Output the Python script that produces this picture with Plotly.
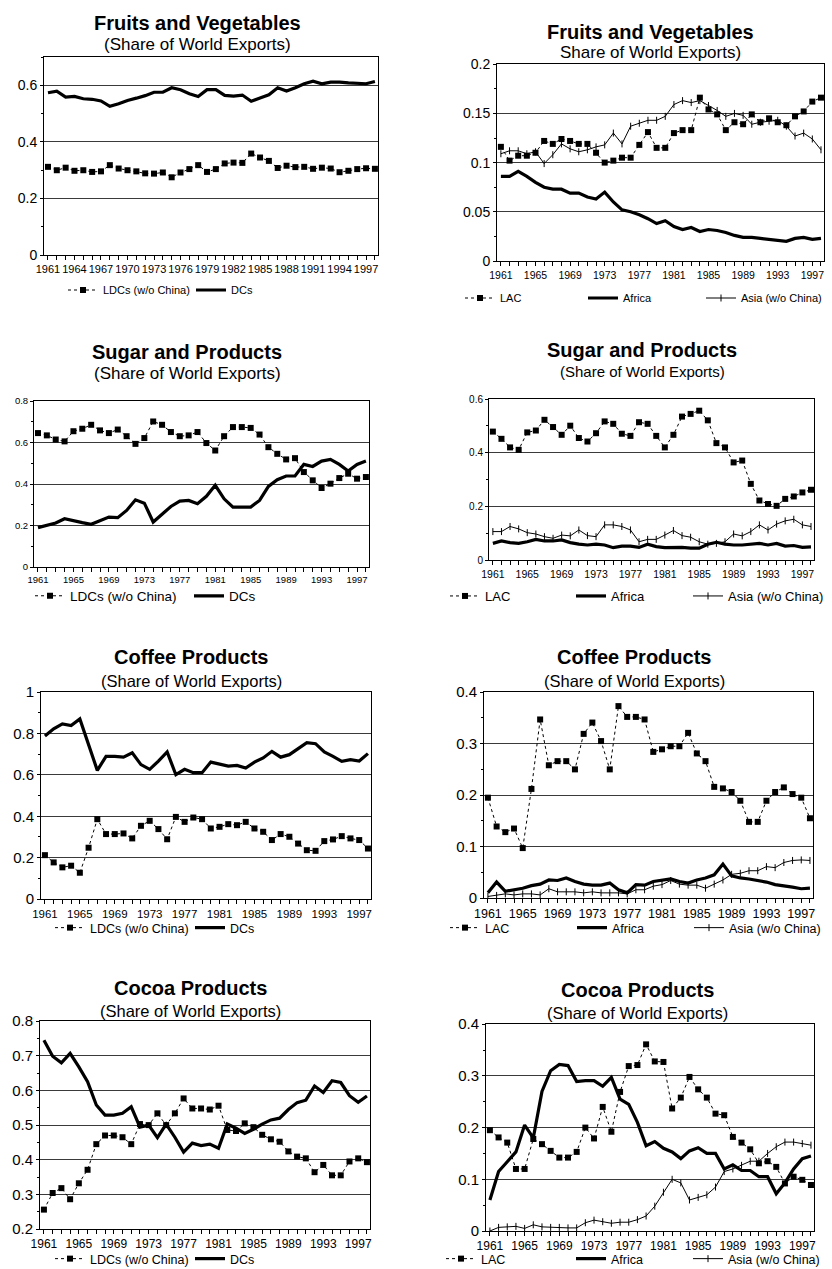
import plotly.graph_objects as go

W, H = 832, 1269
years = list(range(1961, 1999))

# ---------------- Fruits and Vegetables ----------------
fv_ldc = [0.312, 0.300, 0.309, 0.298, 0.300, 0.294, 0.296, 0.318, 0.306, 0.300,
          0.296, 0.289, 0.288, 0.292, 0.275, 0.292, 0.304, 0.318, 0.294, 0.304,
          0.324, 0.327, 0.326, 0.359, 0.345, 0.333, 0.308, 0.316, 0.311, 0.312,
          0.305, 0.309, 0.306, 0.293, 0.298, 0.304, 0.307, 0.305]
fv_dc = [0.574, 0.580, 0.559, 0.561, 0.553, 0.551, 0.545, 0.526, 0.535, 0.547,
         0.555, 0.564, 0.576, 0.576, 0.592, 0.585, 0.571, 0.561, 0.585, 0.585,
         0.565, 0.562, 0.566, 0.544, 0.556, 0.567, 0.592, 0.580, 0.592, 0.606,
         0.615, 0.606, 0.612, 0.612, 0.609, 0.608, 0.606, 0.614]
fv_lac = [0.116, 0.102, 0.107, 0.107, 0.110, 0.122, 0.119, 0.124, 0.122, 0.119,
          0.119, 0.110, 0.100, 0.102, 0.105, 0.105, 0.118, 0.131, 0.115, 0.115,
          0.130, 0.133, 0.133, 0.166, 0.154, 0.149, 0.133, 0.141, 0.139, 0.149,
          0.141, 0.145, 0.141, 0.138, 0.147, 0.152, 0.162, 0.166]
fv_africa = [0.086, 0.086, 0.091, 0.086, 0.080, 0.075, 0.073, 0.073, 0.069, 0.069,
             0.065, 0.063, 0.070, 0.060, 0.052, 0.050, 0.047, 0.043, 0.038, 0.041,
             0.035, 0.032, 0.034, 0.030, 0.032, 0.031, 0.029, 0.026, 0.024, 0.024,
             0.023, 0.022, 0.021, 0.020, 0.023, 0.024, 0.022, 0.023]
fv_asia = [0.109, 0.112, 0.112, 0.109, 0.111, 0.099, 0.108, 0.119, 0.114, 0.111,
           0.113, 0.116, 0.118, 0.130, 0.119, 0.137, 0.140, 0.143, 0.143, 0.147,
           0.159, 0.163, 0.161, 0.163, 0.158, 0.153, 0.147, 0.150, 0.148, 0.139,
           0.141, 0.142, 0.143, 0.137, 0.127, 0.130, 0.124, 0.113]

# ---------------- Sugar and Products ----------------
su_ldc = [0.646, 0.635, 0.615, 0.606, 0.655, 0.667, 0.686, 0.659, 0.646, 0.663,
          0.631, 0.594, 0.622, 0.702, 0.686, 0.651, 0.631, 0.635, 0.651, 0.598,
          0.562, 0.631, 0.675, 0.675, 0.671, 0.639, 0.578, 0.546, 0.519, 0.525,
          0.458, 0.418, 0.381, 0.402, 0.429, 0.450, 0.426, 0.434]
su_dc = [0.190, 0.201, 0.212, 0.233, 0.222, 0.214, 0.206, 0.222, 0.241, 0.238,
         0.273, 0.324, 0.308, 0.217, 0.257, 0.292, 0.318, 0.321, 0.305, 0.341,
         0.394, 0.329, 0.289, 0.289, 0.289, 0.321, 0.389, 0.421, 0.439, 0.439,
         0.495, 0.485, 0.511, 0.519, 0.495, 0.463, 0.495, 0.511]
su_lac = [0.479, 0.452, 0.420, 0.411, 0.476, 0.483, 0.523, 0.496, 0.467, 0.501,
          0.455, 0.442, 0.473, 0.517, 0.508, 0.471, 0.463, 0.514, 0.508, 0.463,
          0.420, 0.467, 0.535, 0.545, 0.557, 0.521, 0.436, 0.420, 0.364, 0.371,
          0.284, 0.222, 0.209, 0.202, 0.228, 0.237, 0.252, 0.262]
su_africa = [0.062, 0.071, 0.065, 0.062, 0.068, 0.077, 0.071, 0.071, 0.075, 0.065,
             0.059, 0.056, 0.059, 0.056, 0.046, 0.052, 0.052, 0.047, 0.059, 0.050,
             0.046, 0.047, 0.047, 0.044, 0.044, 0.059, 0.066, 0.059, 0.056, 0.056,
             0.059, 0.062, 0.056, 0.062, 0.052, 0.054, 0.047, 0.049]
su_asia = [0.106, 0.106, 0.125, 0.116, 0.102, 0.097, 0.087, 0.081, 0.093, 0.090,
           0.112, 0.091, 0.087, 0.131, 0.131, 0.125, 0.112, 0.068, 0.077, 0.077,
           0.093, 0.110, 0.091, 0.085, 0.068, 0.059, 0.062, 0.068, 0.097, 0.090,
           0.106, 0.131, 0.112, 0.134, 0.146, 0.152, 0.131, 0.125]

# ---------------- Coffee Products ----------------
co_ldc = [0.212, 0.177, 0.153, 0.161, 0.127, 0.248, 0.386, 0.314, 0.314, 0.317,
          0.293, 0.354, 0.378, 0.338, 0.289, 0.397, 0.373, 0.394, 0.386, 0.341,
          0.349, 0.362, 0.357, 0.373, 0.341, 0.325, 0.285, 0.314, 0.301, 0.268,
          0.236, 0.233, 0.280, 0.288, 0.304, 0.293, 0.285, 0.244]
co_dc = [0.788, 0.823, 0.847, 0.839, 0.871, 0.743, 0.622, 0.690, 0.690, 0.686,
         0.707, 0.650, 0.627, 0.667, 0.711, 0.601, 0.627, 0.611, 0.611, 0.662,
         0.654, 0.643, 0.646, 0.633, 0.662, 0.682, 0.714, 0.686, 0.698, 0.727,
         0.756, 0.751, 0.711, 0.690, 0.666, 0.674, 0.667, 0.703]
co_lac = [0.195, 0.139, 0.128, 0.135, 0.097, 0.212, 0.347, 0.258, 0.266, 0.266,
          0.250, 0.319, 0.341, 0.305, 0.250, 0.373, 0.352, 0.352, 0.347, 0.284,
          0.289, 0.295, 0.295, 0.321, 0.281, 0.266, 0.216, 0.213, 0.206, 0.189,
          0.148, 0.148, 0.189, 0.206, 0.215, 0.202, 0.195, 0.155]
co_africa = [0.010, 0.031, 0.013, 0.016, 0.019, 0.024, 0.027, 0.035, 0.034, 0.039,
             0.032, 0.027, 0.025, 0.025, 0.029, 0.016, 0.010, 0.026, 0.025, 0.032,
             0.035, 0.037, 0.032, 0.029, 0.035, 0.039, 0.045, 0.066, 0.043, 0.039,
             0.037, 0.034, 0.031, 0.026, 0.024, 0.021, 0.018, 0.019]
co_asia = [0.003, 0.005, 0.008, 0.006, 0.008, 0.008, 0.006, 0.018, 0.012, 0.012,
           0.012, 0.010, 0.012, 0.010, 0.010, 0.010, 0.008, 0.016, 0.016, 0.023,
           0.026, 0.034, 0.027, 0.025, 0.025, 0.019, 0.027, 0.035, 0.046, 0.048,
           0.053, 0.053, 0.061, 0.059, 0.069, 0.073, 0.074, 0.073]

# ---------------- Cocoa Products ----------------
cc_ldc = [0.256, 0.304, 0.318, 0.286, 0.332, 0.371, 0.445, 0.470, 0.470, 0.465,
          0.445, 0.503, 0.500, 0.534, 0.500, 0.534, 0.577, 0.548, 0.548, 0.545,
          0.556, 0.486, 0.483, 0.505, 0.494, 0.472, 0.459, 0.452, 0.424, 0.409,
          0.404, 0.364, 0.385, 0.355, 0.355, 0.395, 0.404, 0.393]
cc_dc = [0.745, 0.699, 0.680, 0.707, 0.668, 0.625, 0.558, 0.529, 0.529, 0.534,
         0.553, 0.494, 0.500, 0.464, 0.503, 0.465, 0.422, 0.448, 0.441, 0.445,
         0.433, 0.503, 0.491, 0.476, 0.488, 0.503, 0.515, 0.520, 0.545, 0.565,
         0.572, 0.613, 0.594, 0.628, 0.623, 0.585, 0.566, 0.584]
cc_lac = [0.195, 0.181, 0.171, 0.120, 0.120, 0.178, 0.168, 0.155, 0.142, 0.142,
          0.153, 0.200, 0.179, 0.240, 0.192, 0.269, 0.319, 0.321, 0.361, 0.328,
          0.327, 0.237, 0.258, 0.298, 0.274, 0.258, 0.227, 0.224, 0.182, 0.171,
          0.158, 0.131, 0.135, 0.124, 0.092, 0.105, 0.099, 0.089]
cc_africa = [0.060, 0.115, 0.134, 0.153, 0.205, 0.180, 0.270, 0.310, 0.322, 0.320,
             0.289, 0.291, 0.291, 0.280, 0.297, 0.255, 0.245, 0.210, 0.165, 0.173,
             0.160, 0.153, 0.140, 0.155, 0.161, 0.150, 0.150, 0.120, 0.128, 0.117,
             0.117, 0.105, 0.105, 0.072, 0.093, 0.120, 0.140, 0.145]
cc_asia = [0.000, 0.007, 0.008, 0.009, 0.005, 0.012, 0.008, 0.007, 0.007, 0.006,
           0.006, 0.016, 0.021, 0.018, 0.015, 0.017, 0.017, 0.022, 0.029, 0.048,
           0.075, 0.100, 0.093, 0.060, 0.065, 0.070, 0.085, 0.115, 0.120, 0.127,
           0.135, 0.135, 0.150, 0.163, 0.172, 0.172, 0.169, 0.166]

titles = ["Fruits and Vegetables", "Sugar and Products", "Coffee Products", "Cocoa Products"]
sub_left = "(Share of World Exports)"
sub_right_fv = "Share of World Exports)"

FONT = "Liberation Sans, Arial, sans-serif"

# panel layout: plot box (px), y range, y step, x label step, fonts, title positions,
# legend text starts (px) per series, legend row y, legend font
panels = [
    dict(kind="dev", a=fv_ldc, b=fv_dc, box=(44, 378, 57, 255), yr=(0, 0.7), dt=0.2, step=3,
         yf=14, xf=11, tx=197, ty=23, sy=44, ss=17, lxs=(103, 231), ly=290, lf=11),
    dict(kind="reg", a=fv_lac, b=fv_africa, c=fv_asia, box=(497, 824, 64, 261), yr=(0, 0.2), dt=0.05, step=4,
         yf=14, xf=10.5, tx=650, ty=32, sy=53, ss=17, lxs=(500, 623, 741), ly=298, lf=11),
    dict(kind="dev", a=su_ldc, b=su_dc, box=(34, 369, 401, 567), yr=(0, 0.8), dt=0.2, step=4,
         yf=9.5, xf=9.5, tx=187, ty=352, sy=373, ss=17, lxs=(70, 229), ly=596, lf=13.5),
    dict(kind="reg", a=su_lac, b=su_africa, c=su_asia, box=(489, 814, 399, 560), yr=(0, 0.6), dt=0.2, step=4,
         yf=10, xf=10.5, tx=642, ty=350, sy=371, ss=15, lxs=(485, 611, 728), ly=596, lf=13),
    dict(kind="dev", a=co_ldc, b=co_dc, box=(41, 371, 692, 899), yr=(0, 1.0), dt=0.2, step=4,
         yf=15, xf=11.5, tx=191, ty=657, sy=681, ss=16.5, lxs=(90, 230), ly=928, lf=12.5),
    dict(kind="reg", a=co_lac, b=co_africa, c=co_asia, box=(484, 813, 692, 898), yr=(0, 0.4), dt=0.1, step=4,
         yf=15, xf=12.5, tx=634, ty=657, sy=681, ss=16.5, lxs=(485, 612, 729), ly=928, lf=12.5),
    dict(kind="dev", a=cc_ldc, b=cc_dc, box=(40, 370, 1021, 1229), yr=(0.2, 0.8), dt=0.1, step=4,
         yf=15, xf=12, tx=190, ty=988, sy=1011, ss=16.5, lxs=(90, 230), ly=1259, lf=12.5),
    dict(kind="reg", a=cc_lac, b=cc_africa, c=cc_asia, box=(486, 814, 1024, 1231), yr=(0, 0.4), dt=0.1, step=4,
         yf=15, xf=12, tx=637, ty=990, sy=1013, ss=16.5, lxs=(481, 611, 728), ly=1259, lf=12.5),
]

fig = go.Figure()
annotations = []
layout = {}
legend_count = 0


def new_legend(x_text, y_px, size):
    global legend_count
    legend_count += 1
    key = "legend" if legend_count == 1 else f"legend{legend_count}"
    layout[key] = dict(orientation="h", x=(x_text - 40) / W, y=1 - y_px / H, xanchor="left", yanchor="middle",
                       bgcolor="rgba(0,0,0,0)", font=dict(family=FONT, size=size, color="black"),
                       itemwidth=30, tracegroupgap=0)
    return key


for i, p in enumerate(panels):
    n = i + 1
    xa = "x" if n == 1 else f"x{n}"
    ya = "y" if n == 1 else f"y{n}"
    x0, x1, y0, y1 = p["box"]

    dashed = dict(color="black", width=1, dash="3px,3px")
    sq = dict(symbol="square", size=6, color="black")
    if p["kind"] == "dev":
        names = ["LDCs (w/o China)", "DCs"]
        series = [p["a"], p["b"]]
    else:
        names = ["LAC", "Africa", "Asia (w/o China)"]
        series = [p["a"], p["b"], p["c"]]
    for k, (nm, ys) in enumerate(zip(names, series)):
        lg = new_legend(p["lxs"][k], p["ly"], p["lf"])
        if k == 0:
            tr = go.Scatter(x=years, y=ys, mode="lines+markers", name=nm, line=dashed, marker=sq)
        elif k == 1:
            tr = go.Scatter(x=years, y=ys, mode="lines", name=nm, line=dict(color="black", width=3.2))
        else:
            tr = go.Scatter(x=years, y=ys, mode="lines+markers", name=nm,
                            line=dict(color="black", width=1),
                            marker=dict(symbol="line-ns", size=5, color="black",
                                        line=dict(color="black", width=1)))
        tr.update(xaxis=xa, yaxis=ya, legend=lg)
        fig.add_trace(tr)

    ticktext = [str(y) if (y - 1961) % p["step"] == 0 else "" for y in years]
    layout["xaxis" if n == 1 else f"xaxis{n}"] = dict(
        domain=[x0 / W, x1 / W], anchor=ya, range=[1960.55, 1998.35],
        tickmode="array", tickvals=years, ticktext=ticktext, ticks="outside", ticklen=4,
        tickcolor="black", tickwidth=1, showgrid=False, zeroline=False,
        showline=True, linecolor="black", linewidth=1, mirror=True,
        tickfont=dict(family=FONT, size=p["xf"], color="black"), tickangle=0, fixedrange=True)
    lo, hi = p["yr"]
    layout["yaxis" if n == 1 else f"yaxis{n}"] = dict(
        domain=[1 - y1 / H, 1 - y0 / H], anchor=xa, range=[lo, hi + (hi - lo) * 0.001],
        tickmode="linear", tick0=lo, dtick=p["dt"], ticks="outside", ticklen=3,
        tickcolor="black", showgrid=True, gridcolor="#3a3a3a", gridwidth=1,
        zeroline=False, showline=True, linecolor="black", linewidth=1, mirror=True,
        minor=dict(dtick=p["dt"] / 2, tick0=lo, ticks="outside", ticklen=2, tickcolor="black", showgrid=False),
        tickfont=dict(family=FONT, size=p["yf"], color="black"), fixedrange=True)

    ttl = titles[i // 2]
    sub = sub_right_fv if n == 2 else sub_left
    annotations.append(dict(text=f"<b>{ttl}</b>", x=p["tx"] / W, y=1 - p["ty"] / H, xref="paper", yref="paper",
                            xanchor="center", yanchor="middle", showarrow=False,
                            font=dict(family=FONT, size=20, color="black")))
    annotations.append(dict(text=sub, x=p["tx"] / W, y=1 - p["sy"] / H, xref="paper", yref="paper",
                            xanchor="center", yanchor="middle", showarrow=False,
                            font=dict(family=FONT, size=p["ss"], color="black")))

fig.update_layout(width=W, height=H, margin=dict(l=0, r=0, t=0, b=0, autoexpand=False),
                  paper_bgcolor="white", plot_bgcolor="white", showlegend=True,
                  annotations=annotations, **layout)

fig.write_html("out.html", config={"displayModeBar": False},
               post_script="document.body.style.margin='0';document.documentElement.style.margin='0';")
